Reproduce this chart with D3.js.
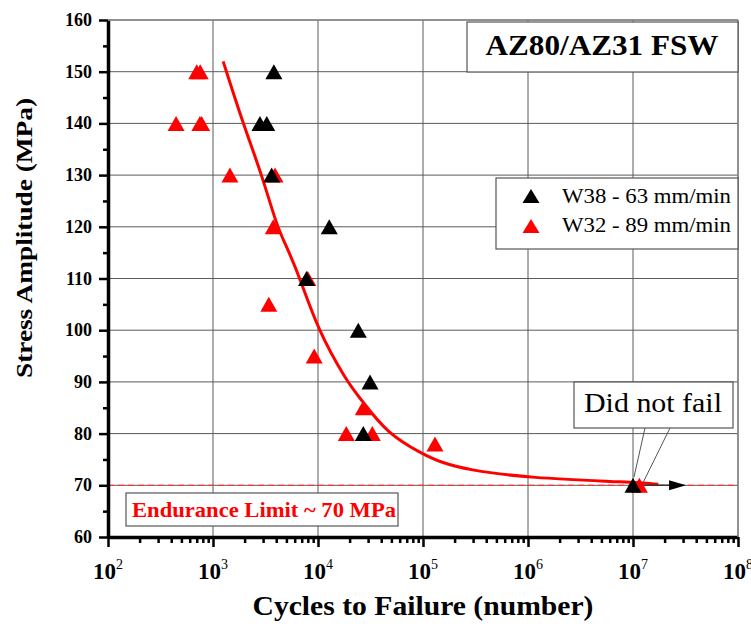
<!DOCTYPE html>
<html>
<head>
	<meta charset="utf-8">
	<title>AZ80/AZ31 FSW S-N</title>
	<script src="https://cdn.jsdelivr.net/npm/d3@7"></script>
	<style>
	body{
		margin: 0;
		background: #fff;
	}
	svg text{
		font-family: "Liberation Serif", "DejaVu Serif", serif;
	}
	</style>
</head>
<body>
<svg id="chart" width="751" height="635"></svg>
<script>
// W38 - 63 mm/min (black)
var w38Cycles = [3800, 2800, 3250, 3620, 12800, 7770, 24200, 31300, 27000, 10000000];
var w38Stress = [150, 140, 140, 130, 120, 110, 100, 90, 80, 70];

// W32 - 89 mm/min (red)
var w32Cycles = [700, 755, 445, 750, 780, 1450, 3900, 3750, 8000, 3400, 9200, 27000, 18600, 32900, 130000, 11500000];
var w32Stress = [150, 150, 140, 140, 140, 130, 130, 120, 110, 105, 95, 85, 80, 80, 78, 70];

// fitted curve
var fitCycles = [1250, 1930, 2930, 4070, 5070, 6760, 10000, 18900, 25100, 45400, 100000, 145000, 263000, 1000000, 10000000, 17400000];
var fitStress = [152, 140, 130, 120, 116, 110, 100, 90, 86.9, 80, 76, 74.5, 73, 71.4, 70.6, 70.2];

var xDecades = [1e2, 1e3, 1e4, 1e5, 1e6, 1e7, 1e8];
var xExponents = ["2", "3", "4", "5", "6", "7", "8"];
var yTicks = [60, 70, 80, 90, 100, 110, 120, 130, 140, 150, 160];
var enduranceLimit = 70;
var runoutArrowEnd = 3.2e7;

var svg = d3.select("#chart");

var plotLeft = 108, plotRight = 738, plotTop = 20, plotBottom = 537;

var x = d3.scaleLog().domain([1e2, 1e8]).range([plotLeft, plotRight]);
var y = d3.scaleLinear().domain([60, 160]).range([plotBottom, plotTop]);

// minor tick values
var xMinor = [];
for (var e = 2; e < 8; e++) {
	for (var m = 2; m <= 9; m++) xMinor.push(m * Math.pow(10, e));
}
var yMinor = d3.range(65, 160, 10);

// grid
var grid = svg.append("g");
grid.selectAll(".gx")
	.data(xDecades.slice(1))
	.enter().append("line")
	.attr("x1", function(d){ return x(d); })
	.attr("x2", function(d){ return x(d); })
	.attr("y1", plotTop).attr("y2", plotBottom)
	.attr("stroke", "#5a5a5a").attr("stroke-width", 1);
grid.selectAll(".gy")
	.data(yTicks.slice(1))
	.enter().append("line")
	.attr("x1", plotLeft).attr("x2", plotRight)
	.attr("y1", function(d){ return y(d); })
	.attr("y2", function(d){ return y(d); })
	.attr("stroke", "#5a5a5a").attr("stroke-width", 1);

// endurance limit dashed line
svg.append("line")
	.attr("x1", plotLeft).attr("x2", plotRight)
	.attr("y1", y(enduranceLimit)).attr("y2", y(enduranceLimit))
	.attr("stroke", "#ff3333").attr("stroke-width", 1.3)
	.attr("stroke-dasharray", "6,4");

// axes
svg.append("g")
	.attr("transform", "translate(" + plotLeft + ",0)")
	.call(d3.axisLeft(y).tickValues(yTicks).tickSize(9).tickSizeOuter(0).tickFormat(""));
svg.append("g")
	.attr("transform", "translate(" + plotLeft + ",0)")
	.call(d3.axisLeft(y).tickValues(yMinor).tickSize(5).tickSizeOuter(0).tickFormat(""))
	.select(".domain").remove();
svg.append("g")
	.attr("transform", "translate(0," + plotBottom + ")")
	.call(d3.axisBottom(x).tickValues(xDecades).tickSize(10).tickSizeOuter(0).tickFormat(""));
svg.append("g")
	.attr("transform", "translate(0," + plotBottom + ")")
	.call(d3.axisBottom(x).tickValues(xMinor).tickSize(6).tickSizeOuter(0).tickFormat(""))
	.select(".domain").remove();
svg.selectAll(".domain").attr("stroke", "#000").attr("stroke-width", 3.5);
svg.selectAll(".tick line").attr("stroke", "#000").attr("stroke-width", 2.5);

// y tick labels
svg.selectAll(".ylab")
	.data(yTicks)
	.enter().append("text")
	.attr("x", 92)
	.attr("y", function(d){ return y(d) + 6; })
	.attr("text-anchor", "end")
	.attr("font-size", "18px")
	.attr("font-weight", "bold")
	.text(function(d){ return d; });

// x tick labels 10^n
var xl = svg.selectAll(".xlab")
	.data(xDecades)
	.enter().append("text")
	.attr("x", function(d){ return x(d); })
	.attr("y", 579)
	.attr("text-anchor", "middle")
	.attr("font-size", "23px")
	.attr("font-weight", "bold");
xl.append("tspan").text("10");
xl.append("tspan")
	.attr("dy", -10)
	.attr("font-size", "14px")
	.attr("font-weight", "normal")
	.text(function(d, i){ return xExponents[i]; });

// top and right border
svg.append("line").attr("x1", plotLeft).attr("x2", plotRight).attr("y1", plotTop).attr("y2", plotTop)
	.attr("stroke", "#888").attr("stroke-width", 1.5);
svg.append("line").attr("x1", plotRight).attr("x2", plotRight).attr("y1", plotTop).attr("y2", plotBottom)
	.attr("stroke", "#888").attr("stroke-width", 1.5);

// axis titles
svg.append("text")
	.attr("transform", "translate(32,238) rotate(-90)")
	.attr("text-anchor", "middle")
	.attr("font-size", "24px")
	.attr("font-weight", "bold")
	.attr("textLength", 280)
	.attr("lengthAdjust", "spacingAndGlyphs")
	.text("Stress Amplitude (MPa)");
svg.append("text")
	.attr("x", 423)
	.attr("y", 615)
	.attr("text-anchor", "middle")
	.attr("font-size", "28px")
	.attr("font-weight", "bold")
	.attr("textLength", 341)
	.attr("lengthAdjust", "spacingAndGlyphs")
	.text("Cycles to Failure (number)");

// boxes
function box(x0, y0, w, h) {
	svg.append("rect")
		.attr("x", x0).attr("y", y0).attr("width", w).attr("height", h)
		.attr("fill", "#fff").attr("stroke", "#555").attr("stroke-width", 1.2);
}

box(467, 22, 271, 50);
svg.append("text")
	.attr("x", 602).attr("y", 55)
	.attr("text-anchor", "middle")
	.attr("font-size", "29px")
	.attr("font-weight", "bold")
	.attr("textLength", 233)
	.attr("lengthAdjust", "spacingAndGlyphs")
	.text("AZ80/AZ31 FSW");

box(126, 493, 272, 33);
svg.append("text")
	.attr("x", 132).attr("y", 517)
	.attr("font-size", "22px")
	.attr("font-weight", "bold")
	.attr("fill", "#ff0000")
	.attr("textLength", 264)
	.attr("lengthAdjust", "spacingAndGlyphs")
	.text("Endurance Limit ~ 70 MPa");

// fit curve
var line = d3.line()
	.x(function(d){ return x(d[0]); })
	.y(function(d){ return y(d[1]); })
	.curve(d3.curveBasis);
svg.append("path")
	.datum(fitCycles.map(function(c, i){ return [c, fitStress[i]]; }))
	.attr("d", line)
	.attr("fill", "none")
	.attr("stroke", "#ff0000")
	.attr("stroke-width", 3);

// run-out arrow
svg.append("line")
	.attr("x1", x(1e7)).attr("x2", x(runoutArrowEnd) - 14)
	.attr("y1", y(enduranceLimit)).attr("y2", y(enduranceLimit))
	.attr("stroke", "#333").attr("stroke-width", 1.5);
svg.append("path")
	.attr("d", "M" + x(runoutArrowEnd) + "," + y(enduranceLimit) + "l-17,-5l0,10z")
	.attr("fill", "#000");

// markers
function tri(cx, cy, w, h) {
	return "M" + cx + "," + (cy - h / 2) + "L" + (cx + w / 2) + "," + (cy + h / 2) + "L" + (cx - w / 2) + "," + (cy + h / 2) + "Z";
}
svg.selectAll(".w32")
	.data(w32Cycles)
	.enter().append("path")
	.attr("d", function(d, i){ return tri(x(d), y(w32Stress[i]), 17, 15); })
	.attr("fill", "#ff0000");
svg.selectAll(".w38")
	.data(w38Cycles)
	.enter().append("path")
	.attr("d", function(d, i){ return tri(x(d), y(w38Stress[i]), 17, 15); })
	.attr("fill", "#000");

// legend
box(496, 178, 242, 71);
var legendItems = [["W38 - 63 mm/min", "#000"], ["W32 - 89 mm/min", "#ff0000"]];
legendItems.forEach(function(item, i){
	svg.append("path")
		.attr("d", tri(531, 196 + i * 30, 17, 14))
		.attr("fill", item[1]);
	svg.append("text")
		.attr("x", 562).attr("y", 203 + i * 29)
		.attr("font-size", "20px")
		.attr("textLength", 169)
		.attr("lengthAdjust", "spacingAndGlyphs")
		.text(item[0]);
});

// did not fail callout
svg.append("line").attr("x1", 645).attr("y1", 428).attr("x2", x(1e7) + 1).attr("y2", 477)
	.attr("stroke", "#555").attr("stroke-width", 1);
svg.append("line").attr("x1", 670).attr("y1", 428).attr("x2", x(1.15e7) + 4).attr("y2", 482)
	.attr("stroke", "#555").attr("stroke-width", 1);
box(574, 382, 159, 46);
svg.append("text")
	.attr("x", 584).attr("y", 412)
	.attr("font-size", "27px")
	.attr("textLength", 138)
	.attr("lengthAdjust", "spacingAndGlyphs")
	.text("Did not fail");
</script>
</body>
</html>
